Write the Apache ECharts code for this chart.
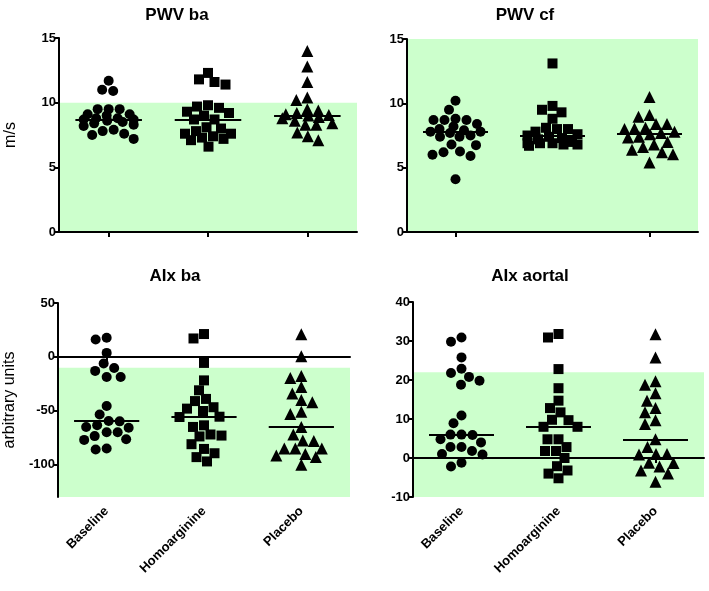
<!DOCTYPE html>
<html><head><meta charset="utf-8">
<script src="https://cdn.jsdelivr.net/npm/echarts@6/dist/echarts.min.js"></script>
<style>html,body{margin:0;padding:0;background:#fff}#c{width:709px;height:591px}</style>
</head><body><div id="c"></div>
<script>
const categories = ['Baseline', 'Homoarginine', 'Placebo'];
const panelTitles = ['PWV ba', 'PWV cf', 'AIx ba', 'AIx aortal'];
const yNames = ['m/s', '', 'arbitrary units', ''];
const ticksPWV = [0, 5, 10, 15];
const ticksAIxBa = [50, 0, -50, -100];
const ticksAIxAortal = [-10, 0, 10, 20, 30, 40];

// PWV ba (m/s)
const pwvBaBaseline = [11.7, 11.0, 10.9, 9.5, 9.5, 9.5, 9.1, 9.1, 9.0, 8.8, 8.8, 8.7, 8.7, 8.6, 8.5, 8.4, 8.3, 8.2, 7.9, 7.8, 7.6, 7.5, 7.2];
const pwvBaHomo = [12.3, 11.8, 11.6, 11.4, 9.8, 9.7, 9.6, 9.3, 9.2, 9.0, 8.7, 8.7, 8.1, 8.0, 7.8, 7.6, 7.6, 7.4, 7.3, 7.2, 7.1, 6.6];
const pwvBaPlacebo = [14.0, 12.8, 11.6, 10.4, 10.2, 9.5, 9.4, 9.2, 9.1, 9.05, 9.0, 8.9, 8.8, 8.6, 8.4, 8.3, 8.3, 7.7, 7.4, 7.1];
// PWV cf (m/s)
const pwvCfBaseline = [10.2, 9.5, 8.8, 8.7, 8.7, 8.7, 8.4, 8.2, 8.0, 7.9, 7.8, 7.8, 7.7, 7.5, 7.4, 7.4, 6.8, 6.75, 6.25, 6.2, 6.0, 5.9, 4.1];
const pwvCfHomo = [13.1, 9.8, 9.5, 9.3, 8.8, 8.1, 8.0, 8.0, 7.8, 7.6, 7.5, 7.4, 7.3, 7.2, 7.0, 6.9, 6.9, 6.9, 6.8, 6.8, 6.7];
const pwvCfPlacebo = [10.5, 9.1, 8.95, 8.4, 8.4, 8.1, 8.05, 8.0, 7.8, 7.7, 7.6, 7.4, 7.35, 7.0, 6.8, 6.6, 6.4, 6.2, 6.05, 5.4];
// AIx ba (arbitrary units)
const aixBaBaseline = [17.7, 16.1, 3.7, -6.2, -10.3, -13, -18.7, -18.7, -45.5, -53.5, -59.5, -59.8, -63.5, -65, -65.7, -70, -70, -73.5, -76.5, -77, -85, -86];
const aixBaHomo = [21.2, 17.1, -5.6, -21.8, -31, -39, -41, -46.7, -48, -50.2, -55.5, -55.8, -63.5, -65, -72, -73, -73.8, -81, -85.4, -89.4, -93, -97];
const aixBaPlacebo = [20.9, 0.5, -17.7, -19.6, -28, -34, -40, -42, -51, -53, -65, -72, -77.5, -78, -85, -85, -85, -90, -91.5, -93, -100];
// AIx aortal (arbitrary units)
const aixAoBaseline = [30.9, 29.8, 25.8, 22.9, 21.8, 20.8, 19.8, 18.8, 10.9, 8.9, 6.0, 6.0, 5.9, 4.8, 4.0, 2.8, 2.8, 1.8, 1.0, 0.9, -1.2, -2.2];
const aixAoHomo = [31.8, 30.9, 22.8, 17.9, 14.7, 12.8, 11.7, 9.8, 9.7, 8.0, 8.0, 4.8, 4.8, 2.8, 1.8, 1.8, 0, -2.1, -3.2, -4.0, -5.2];
const aixAoPlacebo = [31.7, 25.8, 19.7, 18.8, 16.6, 14.7, 12.8, 11.7, 9.7, 8.7, 4.8, 2.8, 1.0, 1.0, 0.9, -1.2, -1.3, -2.2, -3.2, -4.0, -6.1];
// shaded reference ranges [low, high]
const refRanges = [[0, 10], [0, 15], [-130, -10], [-10, 22]];
const yRanges = [[0, 15], [0, 15], [-130, 50], [-10, 40]];

const groups = [
  [pwvBaBaseline, pwvBaHomo, pwvBaPlacebo],
  [pwvCfBaseline, pwvCfHomo, pwvCfPlacebo],
  [aixBaBaseline, aixBaHomo, aixBaPlacebo],
  [aixAoBaseline, aixAoHomo, aixAoPlacebo]
];
const yTicks = [ticksPWV, ticksPWV, ticksAIxBa, ticksAIxAortal];

// ---- layout (pixels) ----
const FONT = '"Liberation Sans", Arial, sans-serif';
const grids = [
  {left: 59, top: 38, width: 298, height: 194},
  {left: 407, top: 39, width: 291, height: 193},
  {left: 58, top: 303, width: 292, height: 194},
  {left: 413, top: 302, width: 291, height: 195}
];
const titlePos = [[172, 2], [520, 2], [170, 263], [525, 263]];
const showXLabels = [false, false, true, true];
const symbols = ['circle', 'rect', 'triangle'];
const symbolSizes = [10, 10, 12];
const SPACING = 11;
const MAX_SPREAD = 25;

function median(a) {
  const s = a.slice().sort((x, y) => x - y);
  const n = s.length;
  return n % 2 ? s[(n - 1) / 2] : (s[n / 2 - 1] + s[n / 2]) / 2;
}
// beeswarm layout in pixels, spread limited to +-MAX_SPREAD
function swarm(vals, ppu, d) {
  const pts = vals.map(v => ({v: v, y: v * ppu})).sort((a, b) => b.y - a.y);
  const placed = [];
  for (const p of pts) {
    let best = null, bestPen = Infinity;
    for (let c = -MAX_SPREAD; c <= MAX_SPREAD; c += 0.5) {
      let pen = 0;
      for (const q of placed) {
        const dist = Math.hypot(q.x - c, q.y - p.y);
        if (dist < d) pen += (d - dist);
      }
      pen = Math.round(pen * 100) / 100;
      if (pen < bestPen || (pen === bestPen && Math.abs(c) < Math.abs(best))) { bestPen = pen; best = c; }
    }
    p.x = best;
    placed.push(p);
  }
  return placed;
}

const option = {
  backgroundColor: '#fff',
  animation: false,
  title: panelTitles.map((t, i) => ({
    text: t, left: titlePos[i][0], top: titlePos[i][1], textAlign: 'center',
    textStyle: {fontSize: 17, fontWeight: 'bold', color: '#000', fontFamily: FONT}
  })),
  grid: grids.map(g => Object.assign({containLabel: false}, g)),
  xAxis: [], yAxis: [], series: []
};

const axisLineStyle = {color: '#000', width: 2};
grids.forEach((g, i) => {
  option.xAxis.push({
    type: 'category', data: categories, gridIndex: i, position: 'bottom', z: 6,
    axisLine: {show: true, onZero: true, lineStyle: axisLineStyle},
    axisTick: {show: true, alignWithLabel: true, length: 5, lineStyle: {color: '#000', width: 2}},
    axisLabel: {show: false}, splitLine: {show: false}
  });
  option.xAxis.push({
    type: 'category', data: categories, gridIndex: i, position: 'bottom', z: 6,
    axisLine: {show: false, onZero: false}, axisTick: {show: false},
    axisLabel: {show: showXLabels[i], rotate: 45, margin: 12, color: '#000', fontSize: 13, fontWeight: 'bold', fontFamily: FONT, interval: 0},
    splitLine: {show: false}
  });
  option.xAxis.push({type: 'value', gridIndex: i, min: -0.5, max: 2.5, show: false});

  const yr = yRanges[i];
  option.yAxis.push({
    type: 'value', gridIndex: i, min: yr[0], max: yr[1], z: 6,
    name: yNames[i], nameLocation: 'middle', nameRotate: 90, nameGap: 40,
    nameTextStyle: {fontSize: 16, color: '#000', fontFamily: FONT},
    axisLine: {show: true, onZero: false, lineStyle: axisLineStyle},
    axisTick: {show: true, length: 5, lineStyle: {color: '#000', width: 2}, customValues: yTicks[i]},
    axisLabel: {show: true, margin: 3, color: '#000', fontSize: 13, fontWeight: 'bold', fontFamily: FONT, customValues: yTicks[i]},
    splitLine: {show: false}
  });

  const ppu = g.height / (yr[1] - yr[0]);
  const catW = g.width / 3;
  option.series.push({
    type: 'scatter', xAxisIndex: 3 * i + 2, yAxisIndex: i, data: [], z: 1, silent: true,
    markArea: {silent: true, itemStyle: {color: '#ccffcc'},
      data: [[{xAxis: -0.5, yAxis: refRanges[i][0]}, {xAxis: 2.5, yAxis: refRanges[i][1]}]]}
  });
  groups[i].forEach((vals, k) => {
    const pts = swarm(vals, ppu, SPACING);
    const med = median(vals);
    option.series.push({
      type: 'scatter', xAxisIndex: 3 * i + 2, yAxisIndex: i, z: 3, silent: true,
      symbol: symbols[k], symbolSize: symbolSizes[k],
      itemStyle: {color: '#000', opacity: 1},
      data: pts.map(p => [k + p.x / catW, p.v]),
      markLine: {silent: true, symbol: ['none', 'none'], label: {show: false},
        lineStyle: {color: '#000', width: 2, type: 'solid'},
        data: [[{coord: [k - 0.335, med]}, {coord: [k + 0.335, med]}]]}
    });
  });
});

const chart = echarts.init(document.getElementById('c'), null, {renderer: 'canvas'});
chart.setOption(option);
</script>
</body></html>
